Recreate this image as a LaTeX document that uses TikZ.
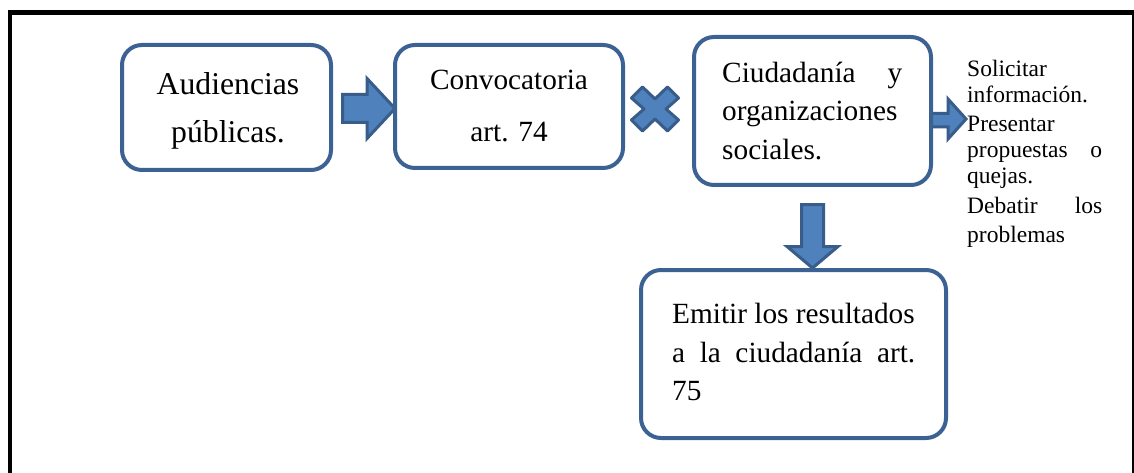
\documentclass[tikz,border=0pt]{standalone}
\usepackage{fontspec}
\setmainfont{Liberation Serif}
\definecolor{boxblue}{RGB}{60,98,148}
\definecolor{arrfill}{RGB}{79,129,189}
\definecolor{arrline}{RGB}{56,93,138}
\tikzset{
  roundbox/.style={draw=boxblue, line width=4pt, rounded corners=20pt, fill=white, inner sep=0pt},
  blockarrow/.style={draw=arrline, fill=arrfill, line width=3pt, line join=miter},
  bigtext/.style={inner sep=0pt, font=\fontsize{31.7}{38}\selectfont},
  boxtext/.style={inner sep=0pt, font=\fontsize{29.3}{35}\selectfont},
  sidetext/.style={inner sep=0pt, anchor=base west, font=\fontsize{23.5}{28}\selectfont},
  frameline/.style={draw=black, line cap=butt}
}
\begin{document}
\begin{tikzpicture}[x=1pt, y=-1pt]
\useasboundingbox (0,0) rectangle (1134,473);
\clip (0,0) rectangle (1134,473);
% outer frame
\draw[frameline, line width=4.5pt] (10,480) -- (10,12.5) -- (1134,12.5);
\draw[frameline, line width=1.5pt] (1133,12.5) -- (1133,480);

% block arrows
\draw[blockarrow] (342.5,94.5) -- (367,94.5) -- (367,78.5) -- (395,108.5) -- (367,138.5) -- (367,122.5) -- (342.5,122.5) -- cycle;
\draw[blockarrow] (931,113.5) -- (948,113.5) -- (948,99) -- (966,119) -- (948,139) -- (948,127) -- (931,127) -- cycle;
\draw[blockarrow] (801.5,204.5) -- (823.5,204.5) -- (823.5,246.5) -- (838,246.5) -- (812.5,268) -- (787,246.5) -- (801.5,246.5) -- cycle;
% multiplication sign
\draw[blockarrow, line join=round] (631.5,98) -- (642.5,87) -- (655,99) -- (667.5,87) -- (678.5,98) -- (666,109) -- (678.5,120) -- (667.5,131) -- (655,119) -- (642.5,131) -- (631.5,120) -- (644,109) -- cycle;

% boxes
\node[roundbox, minimum width=209pt, minimum height=125pt] (b1) at (226.5,107.5) {};
\node[roundbox, minimum width=228pt, minimum height=123pt] (b2) at (509,106.5) {};
\node[roundbox, minimum width=237pt, minimum height=148pt] (b3) at (812.5,111) {};
\node[roundbox, minimum width=305pt, minimum height=168pt] (b4) at (793.5,354) {};

% box texts
\node[bigtext, anchor=base] (t1a) at (228,95) {Audiencias};
\node[bigtext, anchor=base] (t1b) at (228,143) {públicas.};
\node[boxtext, anchor=base] (t2a) at (509,90) {Convocatoria};
\node[boxtext, anchor=base] (t2b) at (509,142) {art. 74};
\node[boxtext, anchor=base west] (t3a) at (722,83) {\makebox[180pt][s]{Ciudadanía y}};
\node[boxtext, anchor=base west] (t3b) at (722,121) {organizaciones};
\node[boxtext, anchor=base west] (t3c) at (722,160) {sociales.};
\node[boxtext, anchor=base west] (t4a) at (672,323) {Emitir los resultados};
\node[boxtext, anchor=base west] (t4b) at (672,362) {\makebox[243pt][s]{a la ciudadanía art.}};
\node[boxtext, anchor=base west] (t4c) at (672,400) {75};

% side text
\node[sidetext] (s1) at (967,77) {Solicitar};
\node[sidetext] (s2) at (967,103) {información.};
\node[sidetext] (s3) at (967,132) {Presentar};
\node[sidetext] (s4) at (967,158) {\makebox[135pt][s]{propuestas o}};
\node[sidetext] (s5) at (967,183) {quejas.};
\node[sidetext] (s6) at (967,213) {\makebox[135pt][s]{Debatir los}};
\node[sidetext] (s7) at (967,242) {problemas};
\end{tikzpicture}
\end{document}
